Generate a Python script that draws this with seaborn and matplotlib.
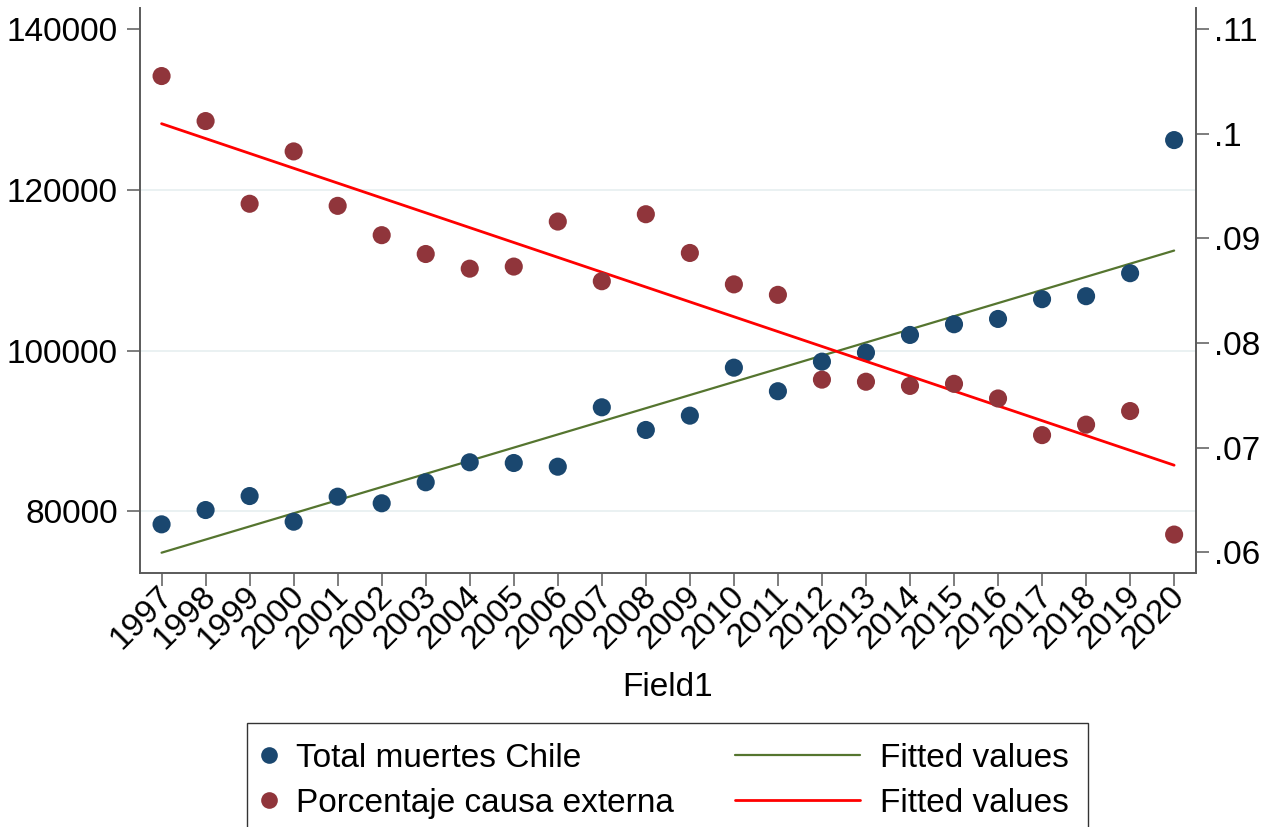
import numpy as np
import pandas as pd
import matplotlib
matplotlib.use("Agg")
import matplotlib.pyplot as plt
from matplotlib.patches import Rectangle
from matplotlib.lines import Line2D
from matplotlib.ticker import FixedLocator, FuncFormatter
from matplotlib.transforms import ScaledTranslation
import seaborn as sns

# Yearly data
years = list(range(1997, 2021))
total_muertes = [78380, 80160, 81900, 78710, 81820, 81000, 83610, 86100,
                 86010, 85550, 92940, 90120, 91900, 97870, 94940, 98620,
                 99740, 101940, 103270, 103930, 106390, 106760, 109620, 126180]
pct_externa = [0.1055, 0.1012, 0.0933, 0.0983, 0.0931, 0.0903, 0.0885, 0.0871,
               0.0873, 0.0916, 0.0859, 0.0923, 0.0886, 0.0856, 0.0846, 0.0765,
               0.0763, 0.0759, 0.0761, 0.0747, 0.0712, 0.0722, 0.0735, 0.0617]

left_ticks = [80000, 100000, 120000, 140000]
left_grid = [80000, 100000, 120000]
right_ticks = [0.06, 0.07, 0.08, 0.09, 0.10, 0.11]

legend_points = ["Total muertes Chile", "Porcentaje causa externa"]
legend_lines = ["Fitted values", "Fitted values"]

df = pd.DataFrame({"year": years, "total": total_muertes, "pct": pct_externa})

NAVY = "#1a476f"
MAROON = "#90353b"
GREEN = "#55752f"
RED = "#ff0000"
AXIS = "#5a5a5a"
GRID = "#e6eff0"

sns.set_style("white")
plt.rcParams["font.family"] = ["Liberation Sans", "DejaVu Sans"]
for key in ("text.color", "axes.labelcolor", "xtick.labelcolor", "ytick.labelcolor"):
    plt.rcParams[key] = "black"
FS = 24

W, H = 1271, 827
fig = plt.figure(figsize=(W / 100, H / 100), dpi=100)
fig.subplots_adjust(left=140 / W, right=1195.7 / W, top=1 - 8 / H, bottom=1 - 573.3 / H)
ax = fig.add_subplot(111)
ax2 = ax.twinx()

for g in left_grid:
    ax.axhline(g, color=GRID, lw=1.2, zorder=0)

# Left axis: total deaths and linear fit
sns.scatterplot(data=df, x="year", y="total", ax=ax, color=NAVY, s=170,
                edgecolor="none", zorder=3)
sns.regplot(data=df, x="year", y="total", ax=ax, scatter=False, ci=None,
            line_kws={"color": GREEN, "lw": 1.6, "zorder": 2})

# Right axis: share of external causes and linear fit
sns.scatterplot(data=df, x="year", y="pct", ax=ax2, color=MAROON, s=170,
                edgecolor="none", zorder=3)
sns.regplot(data=df, x="year", y="pct", ax=ax2, scatter=False, ci=None,
            line_kws={"color": RED, "lw": 2.0, "zorder": 2})

ax.set_xlim(1996.51, 2020.49)
ax.set_ylim(72290, 142610)
ax2.set_ylim(0.05800, 0.11200)

ax.set_xticks(years)
ax.set_xticklabels([str(y) for y in years], rotation=45, ha="right",
                   rotation_mode="anchor", fontsize=FS)
ax.yaxis.set_major_locator(FixedLocator(left_ticks))
ax.yaxis.set_major_formatter(FuncFormatter(lambda v, p: f"{v:.0f}"))
ax2.yaxis.set_major_locator(FixedLocator(right_ticks))
ax2.yaxis.set_major_formatter(FuncFormatter(lambda v, p: f"{v:g}".lstrip("0")))

TL, TW = 9.4, 1.1
ax.tick_params(axis="x", direction="out", length=TL, width=TW, color=AXIS,
               pad=0, labelsize=FS, bottom=True)
ax.tick_params(axis="y", direction="out", length=TL, width=TW, color=AXIS,
               pad=6.5, labelsize=FS, left=True)
ax2.tick_params(axis="y", direction="out", length=TL, width=TW, color=AXIS,
                pad=3.5, labelsize=FS, right=True)

# nudge the slanted year labels up and to the left
shift = ScaledTranslation(-5 / 100, 6 / 100, fig.dpi_scale_trans)
for lab in ax.get_xticklabels():
    lab.set_transform(lab.get_transform() + shift)

ax.set_xlabel("Field1", fontsize=FS)
ax.xaxis.set_label_coords(0.5, -(687 - 573.3) / 565.3)
ax.xaxis.label.set_va("center")
ax.set_ylabel("")
ax2.set_ylabel("")

for a in (ax, ax2):
    a.spines["top"].set_visible(False)
    for s in ("left", "right", "bottom"):
        a.spines[s].set_color(AXIS)
        a.spines[s].set_linewidth(1.4)
ax.spines["right"].set_visible(False)
ax2.spines["left"].set_visible(False)
ax2.spines["bottom"].set_visible(False)

# Legend frame, running off the bottom edge
fig.add_artist(Rectangle((247 / W, -0.05), (1088 - 247) / W, (H - 723) / H + 0.05,
                         transform=fig.transFigure, facecolor="white",
                         edgecolor="#333333", lw=1.0, zorder=5))

pt_handles = [Line2D([], [], ls="none", marker="o", ms=12, color=c, mec="none")
              for c in (NAVY, MAROON)]
ln_handles = [Line2D([], [], color=c, lw=w) for c, w in ((GREEN, 1.6), (RED, 2.0))]

yc = 1 - 781 / H
leg1 = fig.legend(pt_handles, legend_points, loc="center left",
                  bbox_to_anchor=(256 / W, yc), frameon=False, fontsize=FS,
                  handlelength=0.75, handletextpad=0.45, labelspacing=0.42,
                  borderpad=0, borderaxespad=0)
leg2 = fig.legend(ln_handles, legend_lines, loc="center left",
                  bbox_to_anchor=(735 / W, yc), frameon=False, fontsize=FS,
                  handlelength=3.75, handletextpad=0.6, labelspacing=0.42,
                  borderpad=0, borderaxespad=0)
for lg in (leg1, leg2):
    lg.set_zorder(6)

fig.savefig("out.png", dpi=100, facecolor="white")
